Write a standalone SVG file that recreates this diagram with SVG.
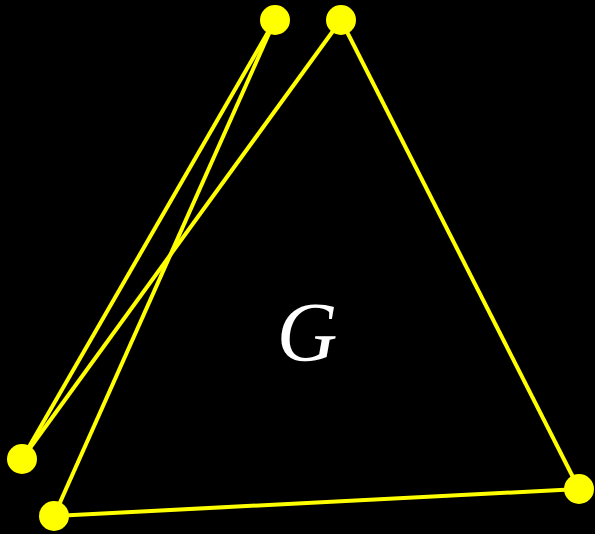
<svg xmlns="http://www.w3.org/2000/svg" width="595" height="534" viewBox="0 0 595 534">
<style>
.e{stroke:#ffff00;stroke-width:4;fill:none}
.n{fill:#ffff00}
.t{font-family:"Liberation Serif",serif;font-style:italic;fill:#fff;font-size:84px}
</style>
<rect width="595" height="534" fill="#000"/>
<g id="edges">
<line class="e" x1="275" y1="20" x2="22" y2="459"/>
<line class="e" x1="275" y1="20" x2="54" y2="516"/>
<line class="e" x1="341" y1="20" x2="22" y2="459"/>
<line class="e" x1="341" y1="20" x2="579" y2="489"/>
<line class="e" x1="54" y1="516" x2="579" y2="489"/>
</g>
<g id="n1"><circle class="n" cx="275" cy="20" r="15"/></g>
<g id="n2"><circle class="n" cx="341" cy="20" r="15"/></g>
<g id="n3"><circle class="n" cx="22" cy="459" r="15"/></g>
<g id="n4"><circle class="n" cx="54" cy="516" r="15"/></g>
<g id="n5"><circle class="n" cx="579" cy="489" r="15"/></g>
<text class="t" x="307" y="361" text-anchor="middle">G</text>
</svg>
